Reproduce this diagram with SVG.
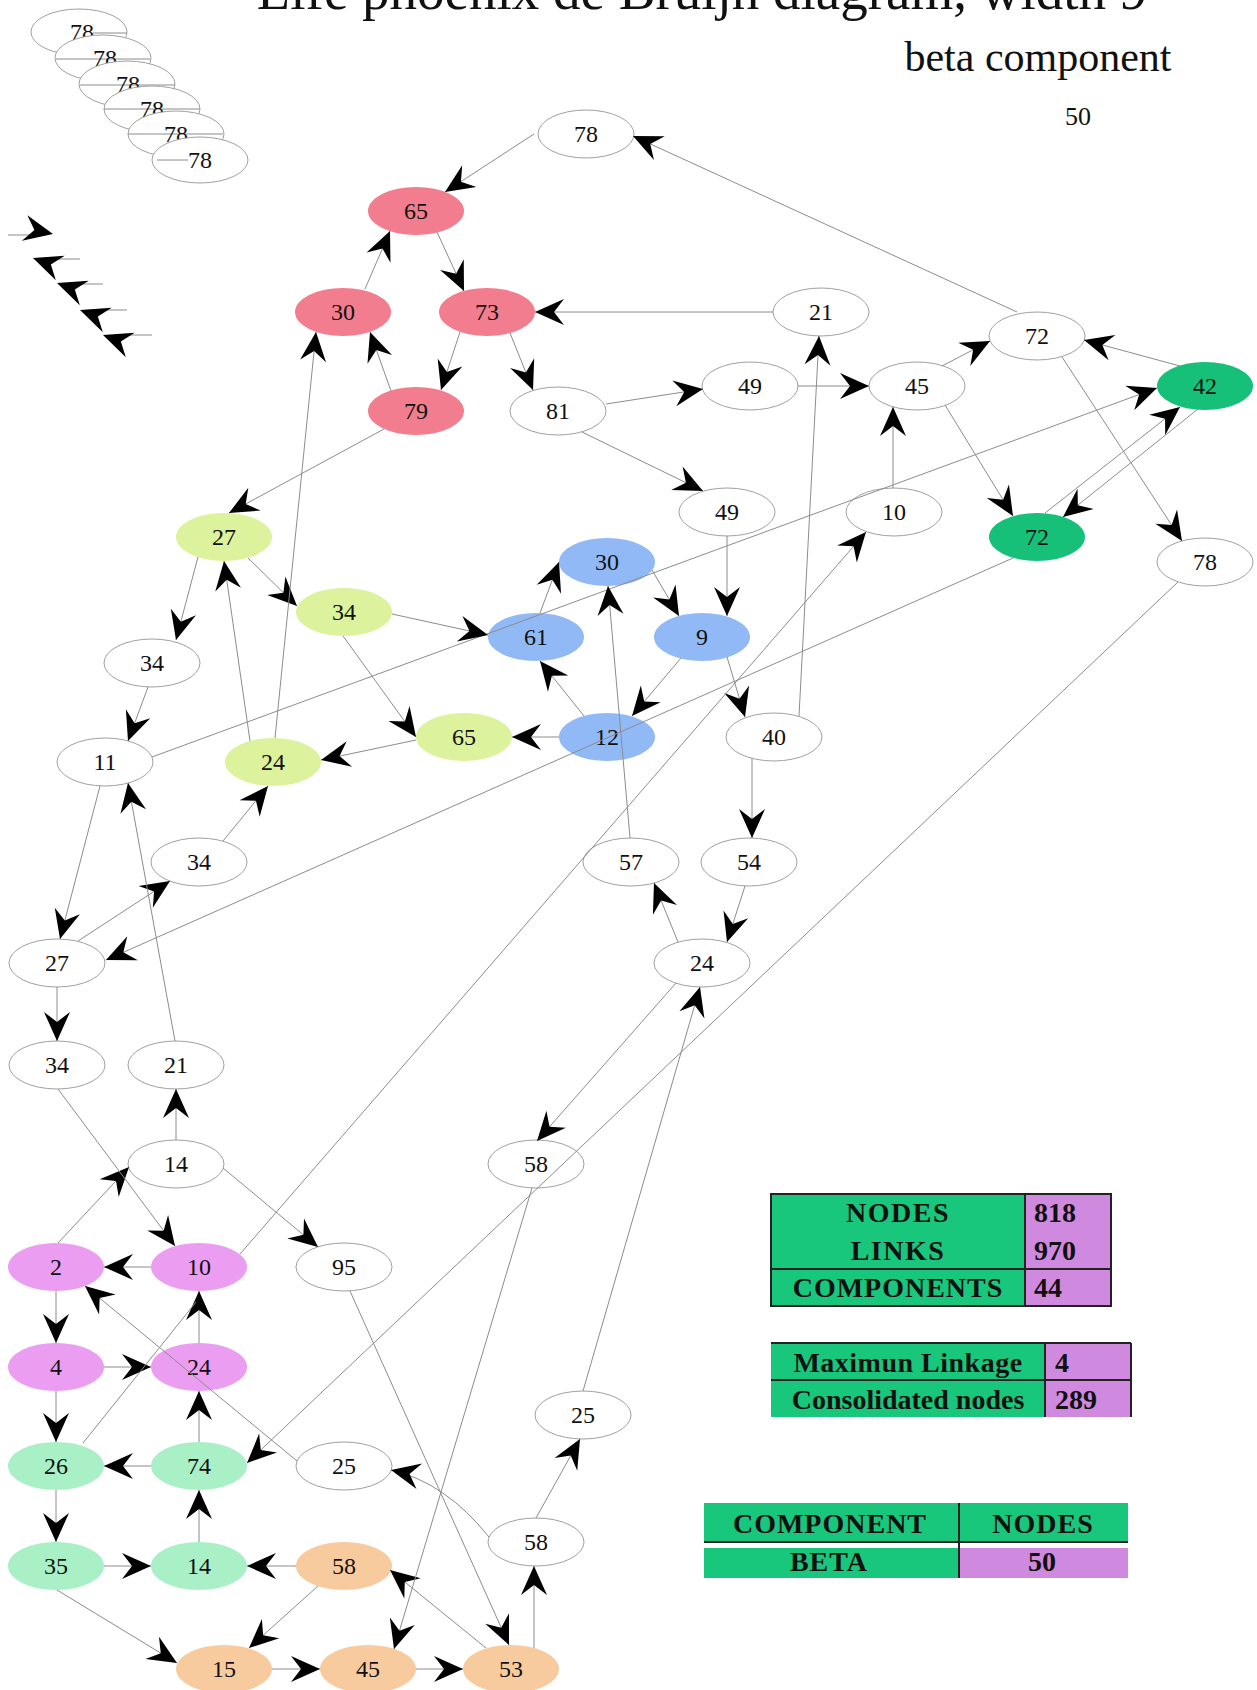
<svg xmlns="http://www.w3.org/2000/svg" width="1257" height="1690" viewBox="0 0 1257 1690">
<style>
  .bg { fill: #ffffff; }
  .node ellipse { stroke: #a0a0a0; stroke-width: 1; fill: #ffffff; }
  .node text { font-family: "Liberation Serif", "Times New Roman", serif; font-size: 24px; text-anchor: middle; fill: #111; }
  .pink ellipse { fill: #f27d8e; stroke: none; }
  .blue ellipse { fill: #90b9f5; stroke: none; }
  .lime ellipse { fill: #dcf29c; stroke: none; }
  .green ellipse { fill: #16c078; stroke: none; }
  .violet ellipse { fill: #eb9df2; stroke: none; }
  .mint ellipse { fill: #a9f0c7; stroke: none; }
  .peach ellipse { fill: #f8cb9f; stroke: none; }
  .edges line, .edges path { stroke: #8c8c8c; stroke-width: 1; fill: none; }
  .edges .a { marker-end: url(#ah); }
  .head { fill: #000; }
  .title { font-family: "Liberation Serif", "Times New Roman", serif; fill: #111; }
  .tbl { font-family: "Liberation Serif", "Times New Roman", serif; font-weight: bold; font-size: 28px; fill: #111; }
  .cg { fill: #19c77c; }
  .cp { fill: #cf8ae0; }
  .rule { stroke: #222; stroke-width: 2; fill: none; }
</style>
<defs>
  <marker id="ah" markerUnits="userSpaceOnUse" markerWidth="32" markerHeight="30" refX="30" refY="15" orient="auto" viewBox="0 0 32 30">
    <path d="M30,15 L1,2 L11,15 L1,28 Z" fill="#000"/>
  </marker>
  <path id="head" d="M0,0 L-29,-13 L-19,0 L-29,13 Z"/>
</defs>
<rect class="bg" x="0" y="0" width="1257" height="1690"/>

<!-- headings -->
<text class="title" x="702" y="9" font-size="55" text-anchor="middle">Life phoenix de Bruijn diagram, width 9</text>
<text class="title" x="1038" y="71" font-size="42" text-anchor="middle">beta component</text>
<text class="title" x="1078" y="125" font-size="26" text-anchor="middle">50</text>

<!-- stacked 78 cluster -->
<g id="stack78">
  <g class="node"><ellipse cx="79" cy="32" rx="48" ry="23"/><line x1="93" y1="33" x2="127" y2="33" stroke="#8c8c8c"/><text x="82" y="40">78</text></g>
  <g class="node"><ellipse cx="103" cy="58" rx="48" ry="23"/><line x1="56" y1="59" x2="150" y2="59" stroke="#8c8c8c"/><text x="105" y="66">78</text></g>
  <g class="node"><ellipse cx="127" cy="84" rx="48" ry="23"/><line x1="80" y1="85" x2="175" y2="85" stroke="#8c8c8c"/><text x="128" y="92">78</text></g>
  <g class="node"><ellipse cx="152" cy="109" rx="48" ry="23"/><line x1="104" y1="109" x2="200" y2="109" stroke="#8c8c8c"/><text x="152" y="117">78</text></g>
  <g class="node"><ellipse cx="176" cy="134" rx="48" ry="23"/><line x1="128" y1="134" x2="223" y2="134" stroke="#8c8c8c"/><text x="176" y="142">78</text></g>
  <g class="node"><ellipse cx="200" cy="160" rx="48" ry="23"/><line x1="157" y1="160" x2="188" y2="160" stroke="#8c8c8c"/><text x="200" y="168">78</text></g>
</g>

<!-- loose arrowheads -->
<g id="loose-heads">
  <line x1="8" y1="235" x2="40" y2="235" stroke="#8c8c8c"/>
  <use href="#head" class="head" transform="translate(53,234) rotate(12)"/>
  <line x1="45" y1="259" x2="80" y2="259" stroke="#8c8c8c"/>
  <use href="#head" class="head" transform="translate(33,258) rotate(200)"/>
  <line x1="70" y1="284" x2="103" y2="284" stroke="#8c8c8c"/>
  <use href="#head" class="head" transform="translate(57,283) rotate(200)"/>
  <line x1="93" y1="310" x2="127" y2="310" stroke="#8c8c8c"/>
  <use href="#head" class="head" transform="translate(80,310) rotate(200)"/>
  <line x1="116" y1="335" x2="152" y2="335" stroke="#8c8c8c"/>
  <use href="#head" class="head" transform="translate(103,335) rotate(200)"/>
</g>

<!-- nodes -->
<g id="nodes">
  <g id="n78t" class="node"><ellipse cx="586" cy="134" rx="48" ry="24"/><text x="586" y="142">78</text></g>
  <g id="p65" class="node pink"><ellipse cx="416" cy="211" rx="48" ry="24"/><text x="416" y="219">65</text></g>
  <g id="p30" class="node pink"><ellipse cx="343" cy="312" rx="48" ry="24"/><text x="343" y="320">30</text></g>
  <g id="p73" class="node pink"><ellipse cx="487" cy="312" rx="48" ry="24"/><text x="487" y="320">73</text></g>
  <g id="p79" class="node pink"><ellipse cx="416" cy="411" rx="48" ry="24"/><text x="416" y="419">79</text></g>
  <g id="w21a" class="node"><ellipse cx="821" cy="312" rx="48" ry="24"/><text x="821" y="320">21</text></g>
  <g id="w81" class="node"><ellipse cx="558" cy="411" rx="48" ry="24"/><text x="558" y="419">81</text></g>
  <g id="w49a" class="node"><ellipse cx="750" cy="386" rx="48" ry="24"/><text x="750" y="394">49</text></g>
  <g id="w45" class="node"><ellipse cx="917" cy="386" rx="48" ry="24"/><text x="917" y="394">45</text></g>
  <g id="w72" class="node"><ellipse cx="1037" cy="336" rx="48" ry="24"/><text x="1037" y="344">72</text></g>
  <g id="g42" class="node green"><ellipse cx="1205" cy="386" rx="48" ry="24"/><text x="1205" y="394">42</text></g>
  <g id="g72" class="node green"><ellipse cx="1037" cy="537" rx="48" ry="24"/><text x="1037" y="545">72</text></g>
  <g id="w78r" class="node"><ellipse cx="1205" cy="562" rx="48" ry="24"/><text x="1205" y="570">78</text></g>
  <g id="w10" class="node"><ellipse cx="894" cy="512" rx="48" ry="24"/><text x="894" y="520">10</text></g>
  <g id="w49b" class="node"><ellipse cx="727" cy="512" rx="48" ry="24"/><text x="727" y="520">49</text></g>
  <g id="b30" class="node blue"><ellipse cx="607" cy="562" rx="48" ry="24"/><text x="607" y="570">30</text></g>
  <g id="b61" class="node blue"><ellipse cx="536" cy="637" rx="48" ry="24"/><text x="536" y="645">61</text></g>
  <g id="b9" class="node blue"><ellipse cx="702" cy="637" rx="48" ry="24"/><text x="702" y="645">9</text></g>
  <g id="b12" class="node blue"><ellipse cx="607" cy="737" rx="48" ry="24"/><text x="607" y="745">12</text></g>
  <g id="y27" class="node lime"><ellipse cx="224" cy="537" rx="48" ry="24"/><text x="224" y="545">27</text></g>
  <g id="y34" class="node lime"><ellipse cx="344" cy="612" rx="48" ry="24"/><text x="344" y="620">34</text></g>
  <g id="y65" class="node lime"><ellipse cx="464" cy="737" rx="48" ry="24"/><text x="464" y="745">65</text></g>
  <g id="y24" class="node lime"><ellipse cx="273" cy="762" rx="48" ry="24"/><text x="273" y="770">24</text></g>
  <g id="w34a" class="node"><ellipse cx="152" cy="663" rx="48" ry="24"/><text x="152" y="671">34</text></g>
  <g id="w11" class="node"><ellipse cx="105" cy="762" rx="48" ry="24"/><text x="105" y="770">11</text></g>
  <g id="w40" class="node"><ellipse cx="774" cy="737" rx="48" ry="24"/><text x="774" y="745">40</text></g>
  <g id="w34b" class="node"><ellipse cx="199" cy="862" rx="48" ry="24"/><text x="199" y="870">34</text></g>
  <g id="w57" class="node"><ellipse cx="631" cy="862" rx="48" ry="24"/><text x="631" y="870">57</text></g>
  <g id="w54" class="node"><ellipse cx="749" cy="862" rx="48" ry="24"/><text x="749" y="870">54</text></g>
  <g id="w27" class="node"><ellipse cx="57" cy="963" rx="48" ry="24"/><text x="57" y="971">27</text></g>
  <g id="w24" class="node"><ellipse cx="702" cy="963" rx="48" ry="24"/><text x="702" y="971">24</text></g>
  <g id="w34c" class="node"><ellipse cx="57" cy="1065" rx="48" ry="24"/><text x="57" y="1073">34</text></g>
  <g id="w21b" class="node"><ellipse cx="176" cy="1065" rx="48" ry="24"/><text x="176" y="1073">21</text></g>
  <g id="w14" class="node"><ellipse cx="176" cy="1164" rx="48" ry="24"/><text x="176" y="1172">14</text></g>
  <g id="w58a" class="node"><ellipse cx="536" cy="1164" rx="48" ry="24"/><text x="536" y="1172">58</text></g>
  <g id="w95" class="node"><ellipse cx="344" cy="1267" rx="48" ry="24"/><text x="344" y="1275">95</text></g>
  <g id="w25a" class="node"><ellipse cx="583" cy="1415" rx="48" ry="24"/><text x="583" y="1423">25</text></g>
  <g id="w25b" class="node"><ellipse cx="344" cy="1466" rx="48" ry="24"/><text x="344" y="1474">25</text></g>
  <g id="w58b" class="node"><ellipse cx="536" cy="1542" rx="48" ry="24"/><text x="536" y="1550">58</text></g>
  <g id="v2" class="node violet"><ellipse cx="56" cy="1267" rx="48" ry="24"/><text x="56" y="1275">2</text></g>
  <g id="v10" class="node violet"><ellipse cx="199" cy="1267" rx="48" ry="24"/><text x="199" y="1275">10</text></g>
  <g id="v4" class="node violet"><ellipse cx="56" cy="1367" rx="48" ry="24"/><text x="56" y="1375">4</text></g>
  <g id="v24" class="node violet"><ellipse cx="199" cy="1367" rx="48" ry="24"/><text x="199" y="1375">24</text></g>
  <g id="m26" class="node mint"><ellipse cx="56" cy="1466" rx="48" ry="24"/><text x="56" y="1474">26</text></g>
  <g id="m74" class="node mint"><ellipse cx="199" cy="1466" rx="48" ry="24"/><text x="199" y="1474">74</text></g>
  <g id="m35" class="node mint"><ellipse cx="56" cy="1566" rx="48" ry="24"/><text x="56" y="1574">35</text></g>
  <g id="m14" class="node mint"><ellipse cx="199" cy="1566" rx="48" ry="24"/><text x="199" y="1574">14</text></g>
  <g id="o58" class="node peach"><ellipse cx="344" cy="1566" rx="48" ry="24"/><text x="344" y="1574">58</text></g>
  <g id="o15" class="node peach"><ellipse cx="224" cy="1669" rx="48" ry="24"/><text x="224" y="1677">15</text></g>
  <g id="o45" class="node peach"><ellipse cx="368" cy="1669" rx="48" ry="24"/><text x="368" y="1677">45</text></g>
  <g id="o53" class="node peach"><ellipse cx="511" cy="1669" rx="48" ry="24"/><text x="511" y="1677">53</text></g>
</g>

<!-- connectors -->
<g id="edges" class="edges">
  <line class="a" x1="534" y1="134" x2="445" y2="192"/>
  <line class="a" x1="1017" y1="312" x2="633" y2="136"/>
  <line class="a" x1="365" y1="289" x2="390" y2="231"/>
  <line class="a" x1="437" y1="232" x2="464" y2="291"/>
  <line class="a" x1="773" y1="312" x2="535" y2="312"/>
  <line class="a" x1="460" y1="332" x2="441" y2="390"/>
  <line class="a" x1="391" y1="391" x2="370" y2="332"/>
  <line class="a" x1="510" y1="333" x2="533" y2="390"/>
  <line class="a" x1="606" y1="404" x2="703" y2="389"/>
  <line class="a" x1="798" y1="386" x2="869" y2="386"/>
  <line class="a" x1="582" y1="432" x2="703" y2="491"/>
  <line class="a" x1="799" y1="716" x2="819" y2="336"/>
  <line class="a" x1="942" y1="366" x2="990" y2="341"/>
  <line class="a" x1="1180" y1="366" x2="1084" y2="340"/>
  <line class="a" x1="893" y1="488" x2="893" y2="407"/>
  <line class="a" x1="945" y1="405" x2="1013" y2="516"/>
  <line class="a" x1="1062" y1="357" x2="1182" y2="541"/>
  <line class="a" x1="1045" y1="513" x2="1180" y2="407"/>
  <line class="a" x1="1198" y1="409" x2="1063" y2="517"/>
  <line class="a" x1="152" y1="757" x2="1157" y2="388"/>
  <line class="a" x1="392" y1="614" x2="488" y2="635"/>
  <line class="a" x1="248" y1="558" x2="297" y2="606"/>
  <line class="a" x1="384" y1="429" x2="229" y2="513"/>
  <line class="a" x1="198" y1="557" x2="176" y2="640"/>
  <line class="a" x1="148" y1="687" x2="128" y2="741"/>
  <line class="a" x1="250" y1="741" x2="224" y2="561"/>
  <line class="a" x1="275" y1="738" x2="316" y2="332"/>
  <line class="a" x1="343" y1="636" x2="416" y2="737"/>
  <line class="a" x1="416" y1="740" x2="321" y2="760"/>
  <line class="a" x1="559" y1="737" x2="512" y2="737"/>
  <line class="a" x1="584" y1="716" x2="540" y2="661"/>
  <line class="a" x1="540" y1="613" x2="559" y2="562"/>
  <line class="a" x1="652" y1="570" x2="679" y2="616"/>
  <line class="a" x1="727" y1="536" x2="727" y2="616"/>
  <line class="a" x1="681" y1="658" x2="632" y2="716"/>
  <line class="a" x1="727" y1="657" x2="745" y2="717"/>
  <line class="a" x1="630" y1="838" x2="608" y2="586"/>
  <line class="a" x1="752" y1="758" x2="752" y2="838"/>
  <line class="a" x1="745" y1="886" x2="727" y2="942"/>
  <line class="a" x1="678" y1="942" x2="654" y2="883"/>
  <line class="a" x1="1013" y1="558" x2="106" y2="960"/>
  <line class="a" x1="100" y1="786" x2="60" y2="939"/>
  <line class="a" x1="78" y1="941" x2="170" y2="881"/>
  <line class="a" x1="223" y1="841" x2="268" y2="786"/>
  <line class="a" x1="175" y1="1041" x2="128" y2="783"/>
  <line class="a" x1="57" y1="987" x2="57" y2="1041"/>
  <line class="a" x1="176" y1="1140" x2="176" y2="1089"/>
  <line class="a" x1="58" y1="1243" x2="129" y2="1167"/>
  <line class="a" x1="58" y1="1089" x2="175" y2="1246"/>
  <line class="a" x1="223" y1="1168" x2="318" y2="1247"/>
  <line class="a" x1="151" y1="1267" x2="104" y2="1267"/>
  <line class="a" x1="240" y1="1254" x2="866" y2="532"/>
  <line class="a" x1="56" y1="1291" x2="56" y2="1343"/>
  <line class="a" x1="104" y1="1367" x2="151" y2="1367"/>
  <line class="a" x1="199" y1="1343" x2="199" y2="1291"/>
  <line class="a" x1="297" y1="1461" x2="85" y2="1286"/>
  <line class="a" x1="56" y1="1391" x2="56" y2="1442"/>
  <line x1="83" y1="1443" x2="196" y2="1302"/>
  <line class="a" x1="151" y1="1466" x2="104" y2="1466"/>
  <line class="a" x1="199" y1="1442" x2="199" y2="1391"/>
  <line class="a" x1="56" y1="1490" x2="56" y2="1542"/>
  <line class="a" x1="104" y1="1566" x2="151" y2="1566"/>
  <line class="a" x1="199" y1="1542" x2="199" y2="1490"/>
  <line class="a" x1="296" y1="1566" x2="247" y2="1566"/>
  <line class="a" x1="57" y1="1590" x2="177" y2="1663"/>
  <line class="a" x1="318" y1="1586" x2="249" y2="1648"/>
  <line class="a" x1="272" y1="1669" x2="320" y2="1669"/>
  <line class="a" x1="416" y1="1669" x2="463" y2="1669"/>
  <line class="a" x1="534" y1="1648" x2="534" y2="1566"/>
  <line class="a" x1="486" y1="1648" x2="390" y2="1570"/>
  <path class="a" d="M489,1537 Q445,1482 391,1470"/>
  <line class="a" x1="536" y1="1518" x2="580" y2="1439"/>
  <line class="a" x1="350" y1="1291" x2="509" y2="1645"/>
  <line class="a" x1="532" y1="1188" x2="394" y2="1649"/>
  <line class="a" x1="676" y1="983" x2="537" y2="1141"/>
  <line class="a" x1="583" y1="1391" x2="700" y2="987"/>
  <line class="a" x1="1178" y1="582" x2="247" y2="1463"/>
</g>

<!-- statistics tables -->
<g id="table-totals">
  <rect class="cg" x="771" y="1194" width="254" height="112"/>
  <rect class="cp" x="1025" y="1194" width="86" height="112"/>
  <rect class="rule" x="771" y="1194" width="340" height="112"/>
  <line class="rule" x1="1025" y1="1194" x2="1025" y2="1306"/>
  <line class="rule" x1="771" y1="1269" x2="1111" y2="1269"/>
  <text class="tbl" x="898" y="1222" text-anchor="middle" letter-spacing="1.5">NODES</text>
  <text class="tbl" x="898" y="1260" text-anchor="middle" letter-spacing="1.5">LINKS</text>
  <text class="tbl" x="898" y="1297" text-anchor="middle" letter-spacing="1">COMPONENTS</text>
  <text class="tbl" x="1034" y="1222">818</text>
  <text class="tbl" x="1034" y="1260">970</text>
  <text class="tbl" x="1034" y="1297">44</text>
</g>
<g id="table-linkage">
  <rect class="cg" x="771" y="1343" width="274" height="74"/>
  <rect class="cp" x="1045" y="1343" width="86" height="74"/>
  <line class="rule" x1="771" y1="1343" x2="1131" y2="1343"/>
  <line class="rule" x1="771" y1="1380" x2="1131" y2="1380"/>
  <line class="rule" x1="1045" y1="1343" x2="1045" y2="1417"/>
  <line class="rule" x1="1131" y1="1343" x2="1131" y2="1417"/>
  <text class="tbl" x="908" y="1372" text-anchor="middle" letter-spacing="0.5">Maximun Linkage</text>
  <text class="tbl" x="908" y="1409" text-anchor="middle">Consolidated nodes</text>
  <text class="tbl" x="1055" y="1372">4</text>
  <text class="tbl" x="1055" y="1409">289</text>
</g>
<g id="table-component">
  <rect class="cg" x="704" y="1503" width="424" height="39"/>
  <rect class="cg" x="704" y="1548" width="255" height="30"/>
  <rect class="cp" x="959" y="1548" width="169" height="30"/>
  <line class="rule" x1="704" y1="1542" x2="1128" y2="1542"/>
  <line class="rule" x1="959" y1="1503" x2="959" y2="1578"/>
  <text class="tbl" x="830" y="1533" text-anchor="middle" letter-spacing="1">COMPONENT</text>
  <text class="tbl" x="1043" y="1533" text-anchor="middle" letter-spacing="1">NODES</text>
  <text class="tbl" x="829" y="1571" text-anchor="middle" letter-spacing="1">BETA</text>
  <text class="tbl" x="1042" y="1571" text-anchor="middle">50</text>
</g>
</svg>
